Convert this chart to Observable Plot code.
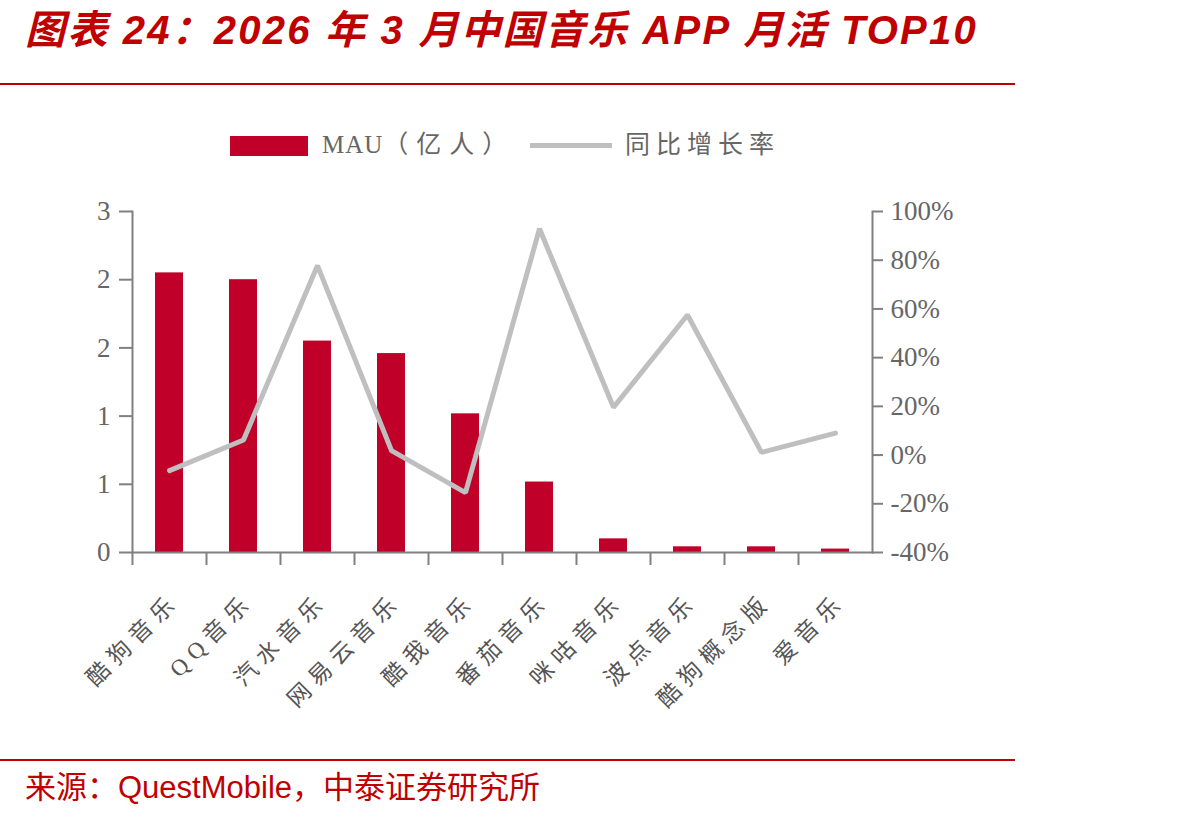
<!DOCTYPE html>
<html>
<head>
<meta charset="utf-8">
<script src="https://cdn.jsdelivr.net/npm/d3@7"></script>
<script src="https://cdn.jsdelivr.net/npm/@observablehq/plot@0.6"></script>
<style>
  html, body { margin: 0; padding: 0; background: #fff; }
  body { width: 1192px; height: 813px; position: relative; overflow: hidden; }
  #title { position: absolute; left: 25px; top: -2px; font-family: "Liberation Sans", "Noto Sans CJK SC", sans-serif; font-weight: bold; font-style: italic; font-size: 40px; color: #C00000; white-space: nowrap; letter-spacing: 2.2px; }
  .rule { position: absolute; left: 0; width: 1015px; height: 2px; background: #C00000; }
  .lg { position: absolute; font-family: "Liberation Serif", "Noto Sans CJK SC", serif; color: #666; white-space: nowrap; line-height: 1; }
  #chart { position: absolute; left: 0; top: 190px; }
  #source { position: absolute; left: 25px; top: 762px; font-family: "Liberation Sans", "Noto Sans CJK SC", sans-serif; font-size: 31px; color: #C00000; white-space: nowrap; }
</style>
</head>
<body>
<div id="title">图表 24：2026 年 3 月中国音乐 APP 月活 TOP10</div>
<div class="rule" style="top:83px"></div>
<div class="lg" style="left:230px;top:136px;width:78px;height:20px;background:#C00029"></div>
<div class="lg" style="left:322px;top:132px;font-size:25px;letter-spacing:1px">MAU<span style="letter-spacing:8px">（亿人）</span></div>
<div class="lg" style="left:530px;top:143px;width:82px;height:5px;background:#BFBFBF"></div>
<div class="lg" style="left:625px;top:132px;font-size:25px;letter-spacing:6px">同比增长率</div>
<div id="chart"></div>
<div class="rule" style="top:759px"></div>
<div id="source">来源：QuestMobile，中泰证券研究所</div>
<script>
// ---- data ----
const apps = ["酷狗音乐", "QQ音乐", "汽水音乐", "网易云音乐", "酷我音乐", "番茄音乐", "咪咕音乐", "波点音乐", "酷狗概念版", "爱音乐"];
const mau = [2.46, 2.40, 1.86, 1.75, 1.22, 0.62, 0.12, 0.05, 0.05, 0.03];   // 亿人
const yoy = [-6.4, 6.2, 77.8, 1.8, -15.4, 92.9, 19.6, 57.5, 1.1, 9.0];      // %
const leftTicks = [0, 0.6, 1.2, 1.8, 2.4, 3];
const rightTicks = [-40, -20, 0, 20, 40, 60, 80, 100];

// ---- layout ----
const W = 1000, H = 532, ML = 132, MR = 128, MT = 21, MB = 170;
const step = (W - ML - MR) / apps.length;

// map right-axis percent onto left scale domain [0,3]
const pMin = -40, pMax = 100, yMax = 3;
const toLeft = p => (p - pMin) / (pMax - pMin) * yMax;
const toPct = v => v / yMax * (pMax - pMin) + pMin;

const rows = apps.map((a, i) => ({app: a, mau: mau[i], yoy: yoy[i], yl: toLeft(yoy[i])}));

const axisColor = "#808080";
const tickFont = "Liberation Serif, serif";
const plot = Plot.plot({
  width: W, height: H,
  marginLeft: ML, marginRight: MR, marginTop: MT, marginBottom: MB,
  style: {fontFamily: tickFont, fontSize: "27px", color: "#666", background: "transparent", overflow: "visible"},
  x: {domain: apps, paddingInner: 0.62, paddingOuter: 0.31, label: null},
  y: {domain: [0, yMax], label: null},
  marks: [
    Plot.barY(rows, {x: "app", y: "mau", fill: "#C00029"}),
    Plot.line(rows, {x: "app", y: "yl", stroke: "#BFBFBF", strokeWidth: 5, strokeLinejoin: "miter"}),
    Plot.frame({anchor: "left", stroke: axisColor, strokeWidth: 2}),
    Plot.frame({anchor: "right", stroke: axisColor, strokeWidth: 2}),
    Plot.frame({anchor: "bottom", stroke: axisColor, strokeWidth: 2}),
    Plot.axisY(leftTicks, {anchor: "left", tickSize: 13, tickPadding: 9, stroke: axisColor, strokeWidth: 2,
      tickFormat: d => String(Math.round(d)), fill: "#666", fontSize: 27, label: null}),
    Plot.axisY(rightTicks.map(toLeft), {anchor: "right", tickSize: 10, tickPadding: 8, stroke: axisColor, strokeWidth: 2,
      tickFormat: d => Math.round(toPct(d)) + "%", fill: "#666", fontSize: 27, label: null}),
    Plot.axisX(apps, {anchor: "bottom", tickSize: 13, text: null, dx: -step / 2, stroke: axisColor, strokeWidth: 2, label: null}),
    Plot.axisX(apps, {anchor: "bottom", tickSize: 0, tickPadding: 45, tickRotate: -45, textAnchor: "end",
      dx: 6, fontFamily: "Liberation Serif, Noto Sans CJK SC, serif", fontSize: 23, fill: "#555", label: null})
  ]
});
// letter spacing for rotated category labels
plot.querySelectorAll("text").forEach(t => { if (/[\u4e00-\u9fff]/.test(t.textContent)) t.setAttribute("letter-spacing", "7"); });
document.getElementById("chart").appendChild(plot);
</script>
</body>
</html>
